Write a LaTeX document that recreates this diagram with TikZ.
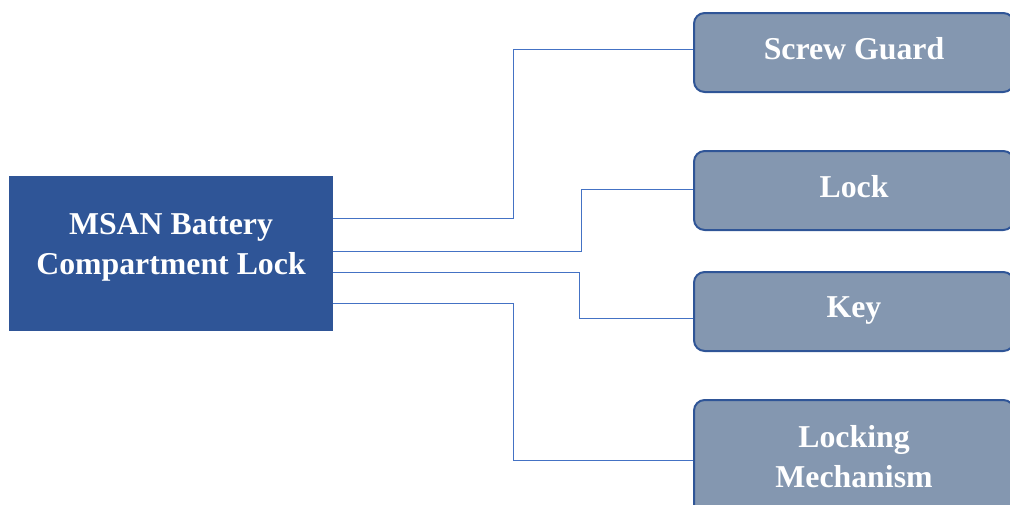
\documentclass[tikz,border=0pt]{standalone}
\usepackage{fontspec}
\setmainfont{Liberation Serif}
\usetikzlibrary{calc}
\definecolor{darkblue}{RGB}{47,85,151}
\definecolor{greyblue}{RGB}{132,151,176}
\definecolor{linkblue}{RGB}{68,114,196}
\begin{document}
\begin{tikzpicture}[x=0.75pt,y=-0.75pt,
  mainbox/.style={rectangle,fill=darkblue,draw=none,minimum width=324*0.75pt,minimum height=155*0.75pt,inner sep=0},
  maintext/.style={text=white,align=center,font=\fontsize{23.85}{30}\selectfont\bfseries},
  partbox/.style={rectangle,rounded corners=8pt,fill=greyblue,draw=darkblue,line width=1.5pt,
    minimum width=320*0.75pt,minimum height=79*0.75pt,inner sep=0,text=white,align=center,
    text depth=6pt,font=\fontsize{23.85}{30}\selectfont\bfseries},
  link/.style={draw=linkblue,line width=0.75pt}]
% page frame in pixel units, y pointing down
\useasboundingbox (0,0) rectangle (1010,504);
\clip (0,0) rectangle (1010,504);
% main block
\node[mainbox,label={[maintext,yshift=4.9pt]center:MSAN Battery\\Compartment Lock}] (main) at (171,253.5) {};
% parts on the right
\node[partbox] (guard) at (854,52.5) {Screw Guard};
\node[partbox] (lock) at (854,190.5) {Lock};
\node[partbox] (key) at (854,311.5) {Key};
\node[partbox,minimum height=120*0.75pt] (mech) at (854,460) {Locking\\Mechanism};
% elbow connectors
\draw[link] ($(main.east)+(0,-35.5)$) -- ++(180,0) |- ($(guard.west)+(0,-3.5)$);
\draw[link] ($(main.east)+(0,-2.5)$) -- ++(248,0) |- ($(lock.west)+(0,-1.5)$);
\draw[link] ($(main.east)+(0,18.5)$) -- ++(246,0) |- ($(key.west)+(0,6.5)$);
\draw[link] ($(main.east)+(0,49.5)$) -- ++(180,0) |- (mech.west);
\end{tikzpicture}
\end{document}
